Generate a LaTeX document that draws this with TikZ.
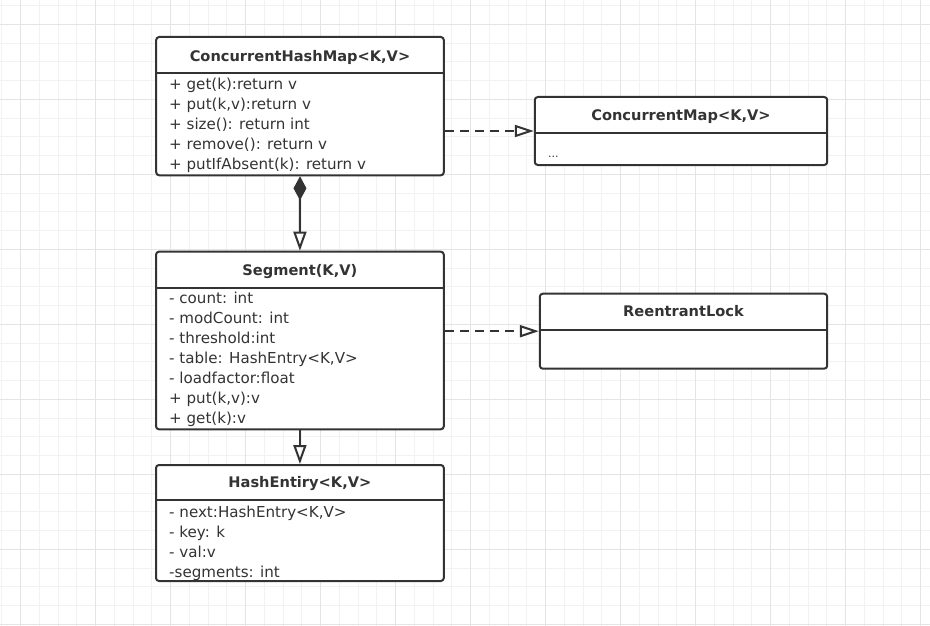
\documentclass[tikz,border=0pt]{standalone}
\usepackage{fontspec}
\setmainfont{DejaVu Sans}
\usetikzlibrary{arrows.meta}
\definecolor{ink}{HTML}{333333}
\definecolor{gridminor}{HTML}{F2F2F2}
\definecolor{gridmajor}{HTML}{E4E4E4}
\begin{document}
\begin{tikzpicture}[x=1pt,y=-1pt,
  umlbox/.style={draw=ink, line width=2pt, rounded corners=3pt, anchor=north west, inner sep=0pt, fill=white},
  divider/.style={draw=ink, line width=2pt},
  titletext/.style={text=ink, font=\fontsize{14.6}{16}\selectfont\bfseries, inner sep=0pt, text height=10.5pt, text depth=0pt},
  rowtext/.style={text=ink, font=\fontsize{15.1}{16}\selectfont, inner sep=0pt, text height=10.8pt, text depth=0pt, anchor=west},
  conn/.style={draw=ink, line width=2pt},
  realize/.style={conn, dash pattern=on 9pt off 6pt, -{Triangle[open,length=19pt,width=12pt]}},
  gen/.style={conn, -{Triangle[open,length=19pt,width=13pt]}}
]
\useasboundingbox (0,0) rectangle (930,626);
\fill[white] (0,0) rectangle (930,626);
% grid
\foreach \i in {0,...,49} \draw[gridminor, line width=1pt] ({1.95+18.75*\i},0) -- ++(0,626);
\foreach \i in {0,...,33} \draw[gridminor, line width=1pt] (0,{5.55+18.75*\i}) -- ++(930,0);
\foreach \i in {0,...,12} \draw[gridmajor, line width=1pt] ({20.7+75*\i},0) -- ++(0,626);
\foreach \i in {0,...,8} \draw[gridmajor, line width=1pt] (0,{24.3+75*\i}) -- ++(930,0);

% ConcurrentHashMap
\node[umlbox, minimum width=287.6pt, minimum height=138.3pt] (chm) at (155.2,36) {};
\draw[divider] (chm.west |- 0,73.3) -- (chm.east |- 0,73.3);
\node[titletext] (chmT) at (chm.north |- 0,56.7) {ConcurrentHashMap<K,V>};
\node[rowtext] (chm1) at (169,84) {+ get(k):return v};
\node[rowtext] (chm2) at (169,104) {+ put(k,v):return v};
\node[rowtext] (chm3) at (169,124) {+ size(): return int};
\node[rowtext] (chm4) at (169,144) {+ remove(): return v};
\node[rowtext] (chm5) at (169,164) {+ putIfAbsent(k): return v};

% Segment
\node[umlbox, minimum width=287.8pt, minimum height=177.6pt] (seg) at (155.0,250.7) {};
\draw[divider] (seg.west |- 0,287.7) -- (seg.east |- 0,287.7);
\node[titletext] (segT) at (seg.north |- 0,270) {Segment(K,V)};
\node[rowtext] (seg1) at (169,298.3) {- count: int};
\node[rowtext] (seg2) at (169,318.3) {- modCount: int};
\node[rowtext] (seg3) at (169,338.3) {- threshold:int};
\node[rowtext] (seg4) at (169,358.3) {- table: HashEntry<K,V>};
\node[rowtext] (seg5) at (169,378.3) {- loadfactor:float};
\node[rowtext] (seg6) at (169,398.3) {+ put(k,v):v};
\node[rowtext] (seg7) at (169,418.3) {+ get(k):v};

% HashEntry
\node[umlbox, minimum width=287.8pt, minimum height=116pt] (he) at (155.0,464) {};
\draw[divider] (he.west |- 0,500) -- (he.east |- 0,500);
\node[titletext] (heT) at (he.north |- 0,482.7) {HashEntiry<K,V>};
\node[rowtext] (he1) at (169,511.7) {- next:HashEntry<K,V>};
\node[rowtext] (he2) at (169,531.7) {- key: k};
\node[rowtext] (he3) at (169,551.7) {- val:v};
\node[rowtext] (he4) at (169,571.7) {-segments: int};

% ConcurrentMap
\node[umlbox, minimum width=292.4pt, minimum height=68pt] (cm) at (533.8,96) {};
\draw[divider] (cm.west |- 0,132.7) -- (cm.east |- 0,132.7);
\node[titletext] (cmT) at (cm.north |- 0,115) {ConcurrentMap<K,V>};
\node[rowtext, font=\fontsize{11}{12}\selectfont] (cm1) at (548,151.7) {...};

% ReentrantLock
\node[umlbox, minimum width=287.4pt, minimum height=75pt] (rl) at (538.8,292.7) {};
\draw[divider] (rl.west |- 0,330) -- (rl.east |- 0,330);
\node[titletext] (rlT) at (rl.north |- 0,311.7) {ReentrantLock};

% connectors
\draw[realize] (chm.east |- cm.west) -- (cm.west);
\draw[realize] (seg.east |- rl.west) -- (rl.west);
\draw[conn, {Diamond[length=24pt,width=13pt]}-{Triangle[open,length=19pt,width=13pt]}] (chm.south) -- (seg.north);
\draw[gen] (seg.south) -- (he.north);
\end{tikzpicture}
\end{document}
